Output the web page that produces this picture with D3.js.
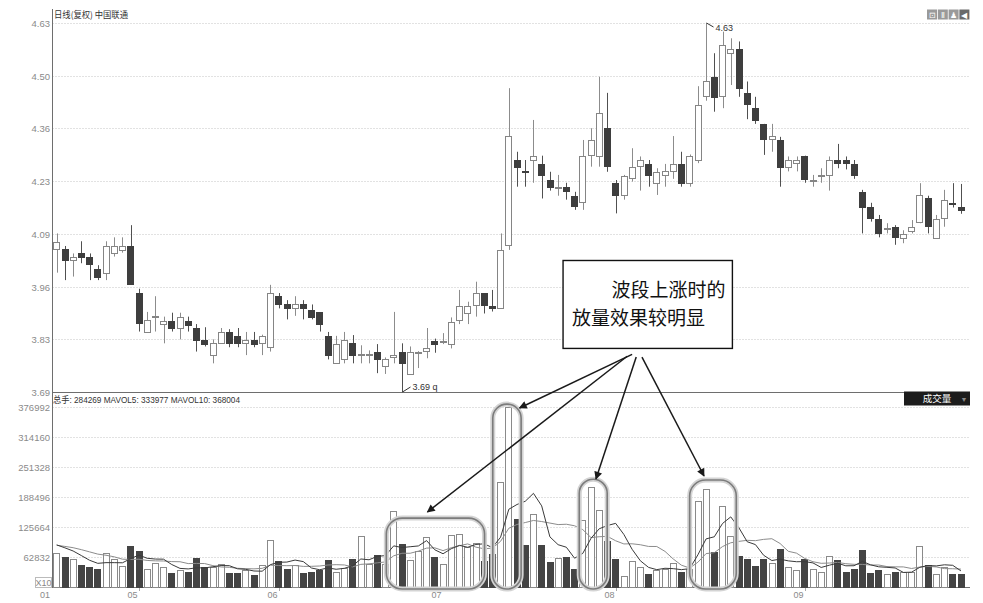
<!DOCTYPE html>
<html><head><meta charset="utf-8">
<script src="https://cdn.jsdelivr.net/npm/d3@7"></script>
<style>
html,body{margin:0;padding:0;background:#fff;}
svg{display:block;font-family:"Liberation Sans",Arial,sans-serif;}
</style></head><body>
<svg id="c" width="983" height="603"></svg>
<script>
// ---------- data ----------
const openP  = [4.056,4.054,4.026,4.045,4.033,4.004,3.995,4.046,4.054,4.063,3.942,3.844,3.883,3.865,3.872,3.855,3.872,3.854,3.823,3.784,3.814,3.842,3.833,3.816,3.823,3.814,3.804,3.934,3.913,3.904,3.913,3.900,3.893,3.833,3.763,3.775,3.814,3.784,3.784,3.792,3.755,3.779,3.792,3.736,3.790,3.794,3.819,3.818,3.812,3.872,3.892,3.911,3.942,3.909,3.903,4.064,4.281,4.253,4.283,4.271,4.230,4.211,4.212,4.190,4.175,4.293,4.293,4.362,4.222,4.192,4.233,4.266,4.271,4.223,4.242,4.252,4.271,4.223,4.283,4.442,4.492,4.442,4.553,4.563,4.452,4.413,4.373,4.334,4.332,4.264,4.274,4.292,4.229,4.242,4.243,4.281,4.281,4.271,4.200,4.162,4.130,4.106,4.110,4.084,4.101,4.123,4.183,4.082,4.135,4.172,4.162];
const highP  = [4.094,4.062,4.043,4.074,4.043,4.013,4.074,4.084,4.084,4.115,3.953,3.894,3.934,3.882,3.892,3.892,3.882,3.863,3.855,3.824,3.853,3.850,3.853,3.843,3.843,3.836,3.963,3.942,3.924,3.934,3.924,3.913,3.893,3.843,3.833,3.843,3.835,3.809,3.796,3.812,3.778,3.894,3.814,3.806,3.794,3.853,3.826,3.840,3.880,3.950,3.920,3.971,3.942,3.950,4.094,4.464,4.302,4.281,4.383,4.292,4.251,4.243,4.223,4.200,4.332,4.362,4.493,4.452,4.230,4.243,4.311,4.290,4.281,4.260,4.271,4.342,4.302,4.295,4.469,4.630,4.553,4.608,4.591,4.583,4.481,4.442,4.373,4.373,4.340,4.290,4.290,4.292,4.243,4.260,4.290,4.322,4.290,4.281,4.205,4.172,4.141,4.120,4.115,4.102,4.128,4.222,4.190,4.141,4.205,4.222,4.220];
const lowP   = [3.994,3.975,3.984,4.018,3.975,3.975,3.975,4.035,4.045,3.965,3.844,3.844,3.844,3.814,3.844,3.824,3.844,3.793,3.806,3.763,3.814,3.804,3.804,3.784,3.804,3.784,3.793,3.903,3.875,3.884,3.875,3.875,3.844,3.773,3.763,3.763,3.763,3.763,3.763,3.738,3.736,3.763,3.690,3.736,3.751,3.776,3.790,3.812,3.801,3.863,3.863,3.882,3.890,3.895,3.903,4.052,4.213,4.213,4.223,4.183,4.203,4.190,4.180,4.154,4.154,4.264,4.264,4.251,4.145,4.180,4.226,4.203,4.213,4.192,4.213,4.233,4.213,4.213,4.273,4.432,4.404,4.413,4.472,4.442,4.385,4.373,4.294,4.302,4.213,4.252,4.252,4.223,4.213,4.223,4.203,4.260,4.257,4.233,4.094,4.124,4.084,4.094,4.065,4.069,4.094,4.120,4.094,4.082,4.111,4.160,4.144];
const closeP = [4.073,4.025,4.033,4.035,4.015,3.984,4.063,4.063,4.063,3.965,3.865,3.874,3.884,3.872,3.855,3.882,3.863,3.824,3.814,3.814,3.842,3.814,3.814,3.823,3.814,3.833,3.942,3.914,3.904,3.913,3.904,3.882,3.863,3.784,3.812,3.823,3.784,3.786,3.786,3.775,3.773,3.784,3.765,3.792,3.792,3.802,3.812,3.820,3.868,3.908,3.909,3.942,3.911,3.903,4.052,4.342,4.264,4.252,4.292,4.243,4.213,4.212,4.203,4.164,4.292,4.332,4.402,4.264,4.192,4.241,4.262,4.281,4.243,4.251,4.252,4.271,4.223,4.292,4.422,4.481,4.442,4.573,4.563,4.464,4.424,4.383,4.334,4.342,4.264,4.281,4.281,4.233,4.230,4.243,4.281,4.273,4.273,4.243,4.162,4.133,4.094,4.107,4.084,4.093,4.110,4.191,4.111,4.130,4.180,4.171,4.154];
const volume = [71400,64300,58900,46400,43500,39300,71400,58900,44900,86700,76900,38000,50600,43500,30900,36600,32400,62300,42200,43500,49100,30900,29700,36600,26100,47000,99200,54700,38600,47000,30900,32400,36600,57400,33000,41000,58900,107600,49100,68500,49100,160400,90200,57400,76900,104900,64300,49100,109700,111800,85200,93600,56000,70000,220400,376992,143700,89400,152900,89400,53300,62000,63000,38000,140000,210600,161900,97100,60200,24000,56000,42200,27600,36600,38300,52200,31800,38000,180400,205100,74500,170600,106800,65800,60200,44900,58900,51800,80400,42200,35900,60200,38000,33000,65800,56800,33000,38600,78300,30300,35900,27600,31800,31800,33000,86700,46400,27600,43500,27600,28427];
// volumes of the sessions just before the visible window (feed the moving averages only)
const priorVolume = [88000,86000,87000,90000,86000,95000,92000,94000,92600];
const priceTickLabels = ["3.69","3.83","3.96","4.09","4.23","4.36","4.50","4.63"];
const volTickValues = [62832,125664,188496,251328,314160,376992];
const monthLabels = ["01","05","06","07","08","09"];
const monthStartIdx = [0,10,27,47,68,91];
const titleText = "日线(复权)  中国联通";
const volHeader = "总手: 284269 MAVOL5: 333977 MAVOL10: 368004";
const noteLines = ["波段上涨时的","放量效果较明显"];

// ---------- layout ----------
const N = volume.length;
const svg = d3.select("#c");
const L = 52.5, R = 970;
const x = d3.scaleBand().domain(d3.range(N)).range([52.6, 965]).paddingInner(0.19).paddingOuter(0.09);
const bw = x.bandwidth();
const cx = i => Math.round(x(i) + bw/2) + 0.5;
const xi = d3.scaleLinear().domain([0, N-1]).range([x(0)+bw/2, x(N-1)+bw/2]);
const yP = d3.scaleLinear().domain([3.69, 4.63]).range([392, 23]);
const yV = d3.scaleLinear().domain([0, 376992]).range([587.5, 407]);

// grids
const gridG = svg.append("g");
const pStep = (4.63-3.69)/7;
priceTickLabels.forEach((lab,k)=>{
  const y = Math.round(yP(3.69 + k*pStep)) + 0.5;
  if (k>0) gridG.append("line").attr("x1",L).attr("x2",R).attr("y1",y).attr("y2",y)
    .attr("stroke","#c4c4c4").attr("stroke-dasharray","1,2");
  gridG.append("text").attr("x",50).attr("y",y).attr("dy","0.35em").attr("text-anchor","end")
    .attr("font-size",9.5).attr("fill","#8a8a8a").text(lab);
});
volTickValues.forEach(v=>{
  const y = Math.round(yV(v)) + 0.5;
  gridG.append("line").attr("x1",L).attr("x2",R).attr("y1",y).attr("y2",y)
    .attr("stroke","#c4c4c4").attr("stroke-dasharray","1,2");
  gridG.append("text").attr("x",50).attr("y",y).attr("dy","0.35em").attr("text-anchor","end")
    .attr("font-size",9.5).attr("fill","#8a8a8a").text(d3.format("d")(v));
});

// axes frame
svg.append("line").attr("x1",52.5).attr("x2",52.5).attr("y1",9).attr("y2",588).attr("stroke","#6e6e6e");
svg.append("line").attr("x1",52).attr("x2",905).attr("y1",392.5).attr("y2",392.5).attr("stroke","#6e6e6e");
svg.append("line").attr("x1",52).attr("x2",R).attr("y1",587.5).attr("y2",587.5).attr("stroke","#6e6e6e");

// month labels
monthLabels.forEach((m,k)=>{
  const xx = cx(monthStartIdx[k]);
  svg.append("text").attr("x", k===0 ? 50 : xx-2).attr("y",598).attr("text-anchor","end")
    .attr("font-size",9).attr("fill","#8a8a8a").text(m);
  if (k>0) svg.append("line").attr("x1",xx).attr("x2",xx).attr("y1",588).attr("y2",591).attr("stroke","#aaa");
});

// candles
const cg = svg.append("g");
d3.range(N).forEach(i=>{
  const o=openP[i], c=closeP[i], up = c>=o;
  const col = up ? "#858585" : "#3e3e3e";
  const xc = cx(i);
  cg.append("line").attr("x1",xc).attr("x2",xc).attr("y1",yP(highP[i])).attr("y2",yP(lowP[i]))
    .attr("stroke", up ? "#8c8c8c" : "#505050");
  const yt = yP(Math.max(o,c)), yb = yP(Math.min(o,c));
  const h = Math.max(1, yb-yt);
  cg.append("rect").attr("x",Math.round(x(i))+0.5).attr("y",Math.round(yt)+0.5)
    .attr("width",Math.round(bw)-1).attr("height",Math.max(0.5,Math.round(h)))
    .attr("fill", up ? "#fff" : "#3e3e3e").attr("stroke", col);
});

// volume bars
const vg = svg.append("g");
d3.range(N).forEach(i=>{
  const up = closeP[i]>=openP[i];
  const yt = Math.round(yV(volume[i]))+0.5;
  vg.append("rect").attr("x",Math.round(x(i))+0.5).attr("y",yt)
    .attr("width",Math.round(bw)-1).attr("height",587.5-yt)
    .attr("fill", up ? "#fff" : "#444").attr("stroke", up ? "#8a8a8a" : "#444");
});

// moving averages of volume
const allV = priorVolume.concat(volume);
const P = priorVolume.length;
function ma(n){ return d3.range(N).map(i=> d3.mean(allV.slice(P+i-n+1, P+i+1))); }
const ma5 = ma(5), ma10 = ma(10);
const lineGen = d3.line().x((d,i)=>xi(i)).y(d=>yV(d));
svg.append("path").attr("d",lineGen(ma10)).attr("fill","none").attr("stroke","#8c8c8c").attr("stroke-width",1);
svg.append("path").attr("d",lineGen(ma5)).attr("fill","none").attr("stroke","#3a3a3a").attr("stroke-width",1);

// title & headers
svg.append("text").attr("x",54).attr("y",18).attr("font-size",9).attr("fill","#333")
  .attr("textLength",74).attr("lengthAdjust","spacingAndGlyphs")
  .attr("font-family","'Noto Sans CJK SC',sans-serif").text(titleText);
svg.append("text").attr("x",53).attr("y",402.5).attr("font-size",9).attr("fill","#333")
  .attr("textLength",187).attr("lengthAdjust","spacingAndGlyphs")
  .attr("font-family","'Liberation Sans','Noto Sans CJK SC',sans-serif").text(volHeader);
// 成交量 box
svg.append("rect").attr("x",904).attr("y",391.5).attr("width",66).attr("height",14).attr("fill","#1c1c1c");
svg.append("text").attr("x",937).attr("y",402).attr("text-anchor","middle").attr("font-size",9.5)
  .attr("fill","#fff").attr("font-family","'Noto Sans CJK SC',sans-serif").text("成交量");
svg.append("text").attr("x",964).attr("y",401.5).attr("text-anchor","middle").attr("font-size",7).attr("fill","#888").text("▼");
// X10 box
svg.append("rect").attr("x",35.5).attr("y",577.5).attr("width",16).attr("height",10).attr("fill","#fff").attr("stroke","#bbb");
svg.append("text").attr("x",43.5).attr("y",586).attr("text-anchor","middle").attr("font-size",9).attr("fill","#888").text("X10");
// top-right icons
["⊡","Ⅱ","♟","◀"].forEach((g,k)=>{
  const x0 = 927 + k*10.8;
  svg.append("rect").attr("x",x0).attr("y",9.5).attr("width",10).attr("height",10)
    .attr("fill", k===3 ? "#6a6a6a" : "#9a9a9a");
  svg.append("text").attr("x",x0+5).attr("y",17.5).attr("text-anchor","middle").attr("font-size",8).attr("fill","#fff").text(g);
});

// high / low markers
const iHi = d3.maxIndex(highP), iLo = d3.minIndex(lowP);
svg.append("line").attr("x1",cx(iHi)).attr("y1",yP(highP[iHi])).attr("x2",cx(iHi)+7).attr("y2",yP(highP[iHi])+4).attr("stroke","#333");
svg.append("text").attr("x",cx(iHi)+9).attr("y",yP(highP[iHi])+8).attr("font-size",9).attr("fill","#333").text(d3.format(".2f")(highP[iHi]));
svg.append("line").attr("x1",cx(iLo)).attr("y1",yP(lowP[iLo])).attr("x2",cx(iLo)+8).attr("y2",yP(lowP[iLo])-5).attr("stroke","#333");
svg.append("text").attr("x",cx(iLo)+10).attr("y",yP(lowP[iLo])-2).attr("font-size",9).attr("fill","#333").text(d3.format(".2f")(lowP[iLo])+"  q");

// ---------- annotations ----------
const ann = svg.append("g");
// rounded highlight frames (index range, top volume)
const frames = [{i0:40.1,i1:52.05,v:145000,r:16},{i0:53.05,i1:56.5,v:383000,r:14},{i0:63.57,i1:66.97,v:226000,r:14},{i0:77.0,i1:82.67,v:224500,r:16}];
frames.forEach(f=>{
  const x0=xi(f.i0), x1=xi(f.i1), y0=yV(f.v), y1=589;
  ann.append("rect").attr("x",x0).attr("y",y0).attr("width",x1-x0).attr("height",y1-y0).attr("rx",f.r).attr("ry",f.r)
    .attr("fill","none").attr("stroke","#d4d4d4").attr("stroke-width",5);
  ann.append("rect").attr("x",x0).attr("y",y0).attr("width",x1-x0).attr("height",y1-y0).attr("rx",f.r).attr("ry",f.r)
    .attr("fill","none").attr("stroke","#7c7c7c").attr("stroke-width",1.6);
});
// note box (index / price space)
const bx0 = xi(61.6), bx1 = xi(82.2), by0 = yP(4.025), by1 = yP(3.801);
ann.append("rect").attr("x",bx0).attr("y",by0).attr("width",bx1-bx0).attr("height",by1-by0)
  .attr("fill","#fff").attr("stroke","#111").attr("stroke-width",1.4);
ann.append("text").attr("x",xi(67.5)).attr("y",yP(3.932)).attr("font-size",19).attr("fill","#111")
  .attr("font-family","'Noto Sans CJK SC',sans-serif").text(noteLines[0]);
ann.append("text").attr("x",xi(62.7)).attr("y",yP(3.861)).attr("font-size",19).attr("fill","#111")
  .attr("font-family","'Noto Sans CJK SC',sans-serif").text(noteLines[1]);
// arrows
svg.append("defs").append("marker").attr("id","ah").attr("viewBox","0 0 10 10").attr("refX",9).attr("refY",5)
  .attr("markerWidth",9).attr("markerHeight",8).attr("markerUnits","userSpaceOnUse").attr("orient","auto")
  .append("path").attr("d","M0,0L10,5L0,10Z").attr("fill","#1a1a1a");
const arrows = [
  {fi:69.4, fp:3.781, ti:45.1, tv:157700},
  {fi:70.0, fp:3.786, ti:56.3, tv:375000},
  {fi:70.5, fp:3.779, ti:65.6, tv:226700},
  {fi:71.2, fp:3.779, ti:78.75, tv:232900}
];
arrows.forEach(a=>{
  ann.append("line").attr("x1",xi(a.fi)).attr("y1",yP(a.fp)).attr("x2",xi(a.ti)).attr("y2",yV(a.tv))
    .attr("stroke","#1a1a1a").attr("stroke-width",1.5).attr("marker-end","url(#ah)");
});
</script>
</body></html>
